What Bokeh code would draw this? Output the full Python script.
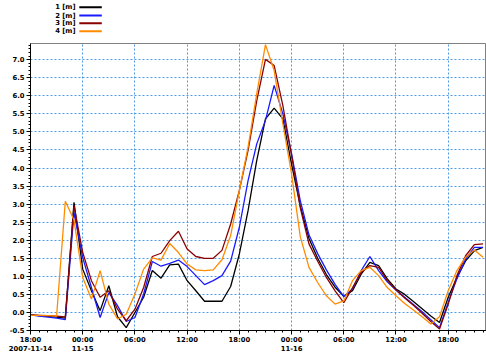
import pandas as pd
from bokeh.plotting import figure
from bokeh.layouts import column
from bokeh.models import FixedTicker, Range1d
from bokeh.core.properties import value
from bokeh.embed import file_html
from bokeh.resources import INLINE

# ---- data (hourly values) ----
start = "2007-11-14 18:00"
series_1 = [-0.07, -0.09, -0.11, -0.13, -0.16, 3.05, 1.2, 0.6, 0.05, 0.74,
            -0.12, -0.42, 0.0, 0.42, 1.16, 0.95, 1.32, 1.34, 0.88, 0.6,
            0.31, 0.31, 0.31, 0.72, 1.62, 2.82, 4.21, 5.36, 5.66, 5.36,
            4.1, 2.95, 2.05, 1.5, 1.05, 0.7, 0.45, 0.6, 1.06, 1.39,
            1.3, 0.93, 0.65, 0.5, 0.3, 0.1, -0.1, -0.28, 0.42, 0.97,
            1.43, 1.71, 1.8]
series_2 = [-0.07, -0.1, -0.13, -0.16, -0.2, 2.77, 1.52, 0.69, -0.14, 0.55,
            0.19, -0.25, -0.14, 0.51, 1.41, 1.28, 1.36, 1.45, 1.27, 1.02,
            0.77, 0.88, 1.02, 1.42, 2.36, 3.65, 4.67, 5.32, 6.29, 5.5,
            4.4, 3.1, 2.15, 1.63, 1.18, 0.78, 0.44, 0.65, 1.16, 1.55,
            1.16, 0.85, 0.62, 0.42, 0.22, 0.02, -0.2, -0.42, 0.28, 0.93,
            1.48, 1.8, 1.8]
series_3 = [-0.07, -0.08, -0.09, -0.1, -0.12, 2.96, 1.66, 0.88, 0.42, 0.6,
            0.09, -0.23, 0.09, 0.69, 1.55, 1.64, 1.99, 2.25, 1.76, 1.55,
            1.5, 1.5, 1.72, 2.45, 3.38, 4.49, 5.87, 7.01, 6.84, 5.73,
            4.35, 2.9, 1.9, 1.42, 0.97, 0.6, 0.27, 0.68, 1.11, 1.3,
            1.25, 0.88, 0.62, 0.4, 0.2, -0.02, -0.25, -0.46, 0.23, 1.02,
            1.57, 1.88, 1.9]
series_4 = [-0.08, -0.08, -0.09, -0.1, 3.08, 2.56, 0.97, 0.37, 1.16, 0.23,
            -0.18, -0.05, 0.51, 1.2, 1.51, 1.45, 1.91, 1.66, 1.34, 1.18,
            1.16, 1.18, 1.46, 2.13, 3.38, 4.58, 6.06, 7.42, 6.7, 5.23,
            3.84, 2.1, 1.25, 0.83, 0.46, 0.23, 0.32, 0.88, 1.16, 1.25,
            1.02, 0.69, 0.46, 0.25, 0.07, -0.12, -0.32, -0.12, 0.6, 1.16,
            1.53, 1.73, 1.53]
names = ["1 [m]", "2 [m]", "3 [m]", "4 [m]"]
colors = ["#000000", "#1a1aff", "#8b0000", "#ff8c00"]

tick_times = ["2007-11-14 18:00", "2007-11-15 00:00", "2007-11-15 06:00",
              "2007-11-15 12:00", "2007-11-15 18:00", "2007-11-16 00:00",
              "2007-11-16 06:00", "2007-11-16 12:00", "2007-11-16 18:00"]
tick_labels = ["18:00\n2007-11-14", "00:00\n11-15", "06:00", "12:00", "18:00",
               "00:00\n11-16", "06:00", "12:00", "18:00"]
y_ticks = [-0.5, 0.0, 0.5, 1.0, 1.5, 2.0, 2.5, 3.0, 3.5, 4.0, 4.5, 5.0, 5.5,
           6.0, 6.5, 7.0]
x_end = "2007-11-16 22:24"
y_range = (-0.5, 7.45)

FONT = "DejaVu Sans"
FSIZE = "6.8px"

# ---- build ----
times = pd.date_range(start, periods=len(series_1), freq="h")


def ms(ts):
    return float(pd.Timestamp(ts).value // 10**6)


x_major = [ms(t) for t in tick_times]
x_minor = [ms(t) for t in pd.date_range(start, x_end, freq="h")]
y_minor = [round(-0.5 + 0.1 * i, 2) for i in range(80)]

# legend strip above the chart (label left of its line sample)
LEG_H = 42
leg = figure(width=486, height=LEG_H, output_backend="svg", toolbar_location=None,
             x_range=Range1d(0, 486), y_range=Range1d(LEG_H, 0),
             x_axis_location=None, y_axis_location=None,
             min_border=0, min_border_left=0, min_border_right=0,
             min_border_top=0, min_border_bottom=0)
leg.outline_line_color = None
leg.xgrid.visible = False
leg.ygrid.visible = False
leg_rows = [6.7, 15.0, 22.7, 30.7]
leg.text(x=[48] * 4, y=leg_rows, text=names, text_align="right",
         text_baseline="middle", text_font=value(FONT), text_font_style="bold",
         text_font_size=FSIZE, text_color="black")
leg.segment(x0=[52] * 4, y0=leg_rows, x1=[76] * 4, y1=leg_rows,
            line_color=colors, line_width=2)

p = figure(width=486, height=356 - LEG_H, x_axis_type="datetime",
           output_backend="svg", toolbar_location=None,
           x_range=Range1d(ms(start), ms(x_end)),
           y_range=Range1d(*y_range),
           min_border_left=30, min_border_right=0, min_border_top=1,
           min_border_bottom=26)
p.background_fill_color = "white"
p.outline_line_color = "#808080"

for vals, col in zip([series_1, series_2, series_3, series_4], colors):
    p.line(times, vals, line_color=col, line_width=1.3)

p.xaxis.ticker = FixedTicker(ticks=x_major, minor_ticks=x_minor)
p.xaxis.major_label_overrides = {v: s for v, s in zip(x_major, tick_labels)}
p.yaxis.ticker = FixedTicker(ticks=y_ticks, minor_ticks=y_minor)
p.yaxis.major_label_overrides = {v: f"{v:.1f}" for v in y_ticks}

for ax in [p.xaxis[0], p.yaxis[0]]:
    ax.axis_line_color = "black"
    ax.major_tick_line_color = "black"
    ax.minor_tick_line_color = "black"
    ax.major_tick_in = 0
    ax.major_tick_out = 4
    ax.minor_tick_in = 0
    ax.minor_tick_out = 2
    ax.major_label_standoff = 2
    ax.major_label_text_font = FONT
    ax.major_label_text_font_style = "bold"
    ax.major_label_text_font_size = FSIZE
    ax.major_label_text_color = "black"
p.xaxis.major_label_standoff = 1

for g in [p.xgrid[0], p.ygrid[0]]:
    g.grid_line_color = "#4d9be8"
    g.grid_line_dash = "2 2"
    g.grid_line_width = 1
p.xgrid.ticker = FixedTicker(ticks=x_major)
p.ygrid.ticker = FixedTicker(ticks=y_ticks)

page = column(leg, p, spacing=0)
open("out.html", "w").write(file_html(page, INLINE))
